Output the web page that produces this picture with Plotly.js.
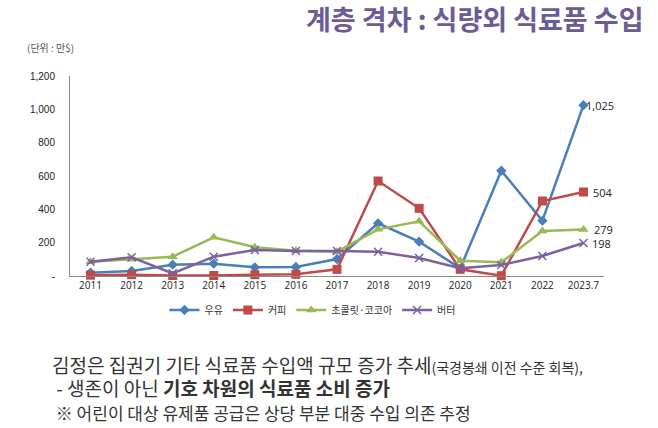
<!DOCTYPE html>
<html><head><meta charset="utf-8">
<script src="https://cdn.plot.ly/plotly-3.0.1.min.js"></script>
<style>html,body{margin:0;padding:0;background:#fff;}#chart{width:658px;height:428px;}</style>
</head><body><div id="chart"></div>
<script>
const years = ['2011','2012','2013','2014','2015','2016','2017','2018','2019','2020','2021','2022','2023.7'];
const milk = [20, 30, 68, 74, 52, 54, 102, 316, 206, 46, 632, 332, 1025];
const coffee = [5, 8, 3, 3, 8, 10, 40, 570, 406, 40, 2, 450, 504];
const choco = [86, 100, 116, 232, 172, 152, 146, 280, 328, 92, 82, 270, 279];
const butter = [86, 112, 16, 116, 156, 150, 150, 146, 108, 46, 66, 120, 198];
const seriesNames = ['우유', '커피', '초콜릿·코코아', '버터'];
const yTickVals = [0, 200, 400, 600, 800, 1000, 1200];
const yTickText = ['-', '200', '400', '600', '800', '1,000', '1,200'];

const kfont = '"Noto Sans CJK KR", "Noto Sans", sans-serif';
const colors = ['#4A7EBB', '#BE4B48', '#98B954', '#7D60A0'];
const symbols = ['diamond', 'square', 'triangle-up', 'x-thin-open'];
const sizes = [8, 9, 9, 8];
const all = [milk, coffee, choco, butter];

const traces = all.map((vals, i) => ({
  type: 'scatter', mode: 'lines+markers', x: years, y: vals, name: seriesNames[i],
  line: {color: colors[i], width: 2.5},
  marker: {symbol: symbols[i], size: sizes[i], color: colors[i], line: {color: colors[i], width: i === 3 ? 1.5 : 0}},
  cliponaxis: false
}));

const last = years.length - 1;
const labelShift = [17, 20, 20, 18];
const annotations = all.map((vals, i) => ({
  x: last, y: vals[last], xref: 'x', yref: 'y', text: vals[last].toLocaleString('en-US'),
  showarrow: false, xshift: labelShift[i], xanchor: 'center', font: {family: '"Open Sans", sans-serif', size: 11, color: '#222'}
}));

annotations.push(
  {xref: 'paper', yref: 'paper', x: -0.085, y: 1.145, xanchor: 'left', yanchor: 'middle', showarrow: false,
   text: '(단위 : 만$)', font: {family: kfont, size: 10, color: '#555'}},
  {xref: 'paper', yref: 'paper', x: -0.038, y: -0.562, xanchor: 'left', yanchor: 'middle', align: 'left', showarrow: false,
   text: '<span style="font-size:19px">김정은 집권기 기타 식료품 수입액 규모 증가 추세</span><span style="font-size:14px">(국경봉쇄 이전 수준 회복),</span>' +
         '<br><span style="font-size:19px">&nbsp;- 생존이 아닌 <b>기호 차원의 식료품 소비 증가</b></span>' +
         '<br><span style="font-size:17px">&nbsp;※ 어린이 대상 유제품 공급은 상당 부분 대중 수입 의존 추정</span>',
   font: {family: kfont, size: 18, color: '#333'}}
);

const layout = {
  width: 658, height: 428,
  margin: {l: 70, r: 54, t: 76, b: 152},
  paper_bgcolor: '#fff', plot_bgcolor: '#fff',
  title: {text: '<b>계층 격차 : 식량외 식료품 수입</b>', xref: 'container', x: 0.978, xanchor: 'right',
          yref: 'container', y: 0.953, yanchor: 'middle',
          font: {family: kfont, size: 27, color: '#6B5C95'}},
  showlegend: true,
  legend: {orientation: 'h', x: 0.455, xanchor: 'center', y: -0.17, yanchor: 'middle',
           font: {family: kfont, size: 10, color: '#333'}, itemwidth: 30, tracegroupgap: 0},
  xaxis: {type: 'category', range: [-0.5, 12.5], showgrid: false, zeroline: false,
          showline: true, linecolor: '#888', linewidth: 1, ticks: '',
          tickfont: {family: '"Open Sans", sans-serif', size: 10, color: '#222'}},
  yaxis: {range: [0, 1200], tickvals: yTickVals, ticktext: yTickText, showgrid: false, zeroline: false,
          showline: true, linecolor: '#888', linewidth: 1, ticks: '', ticklabelstandoff: 12,
          tickfont: {family: '"Liberation Sans", Arial, sans-serif', size: 10, color: '#222'}},
  annotations: annotations
};

Plotly.newPlot('chart', traces, layout, {displayModeBar: false, staticPlot: true});
</script></body></html>
